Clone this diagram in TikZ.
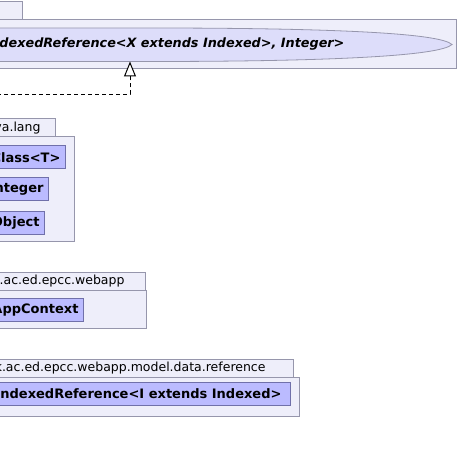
\documentclass[tikz,border=0pt]{standalone}
\usepackage{fontspec}
\setmainfont{DejaVu Sans}
\usetikzlibrary{arrows.meta}
\usetikzlibrary{positioning}

\definecolor{pkgfill}{RGB}{238,238,250}
\definecolor{pkgline}{RGB}{150,150,172}
\definecolor{clsfill}{RGB}{187,187,255}
\definecolor{clsline}{RGB}{112,112,170}
\definecolor{ovlfill}{RGB}{221,221,250}

\begin{document}
\begin{tikzpicture}[x=1pt, y=-1pt, line width=1pt,
    pkg/.style={draw=pkgline, fill=pkgfill},
    pkglabel/.style={anchor=east, inner sep=0pt, font=\fontsize{12.5}{14}\selectfont},
    cls/.style={draw=clsline, fill=clsfill, anchor=east, inner xsep=5pt, inner ysep=0pt,
        minimum height=23pt, font=\fontsize{13}{15}\selectfont\bfseries},
    dep/.style={dash pattern=on 4pt off 3pt, -{Triangle[open, fill=white, length=15pt, width=12pt]}}]
    \fill[white] (0,0) rectangle (463,462);
    \useasboundingbox (0,0) rectangle (463,462);
    \clip (0,0) rectangle (463,462);

    % top package
    \draw[pkg] (-30,2) rectangle (22,20);
    \draw[pkg] (-30,20) rectangle (456,69);
    \draw[draw=pkgline, fill=ovlfill, line width=0.8pt] (452,44.5) .. controls (440,33) and (330,28) .. (150,28)
        -- (-30,28) -- (-30,61.5) -- (150,61.5) .. controls (330,61.5) and (440,56) .. cycle;
    \node (ovl) [anchor=east, inner sep=0pt, font=\fontsize{12.8}{15}\selectfont\bfseries\itshape]
        at (345,44.5) {IndexedReference<X extends Indexed>, Integer>};
    \coordinate (ovlbot) at (130,61.5);

    % java.lang
    \draw[pkg] (-30,119) rectangle (55,137);
    \draw[pkg] (-30,137) rectangle (74,242);
    \node (lang) [pkglabel] at (41,128.5) {java.lang};
    \node (klass) [cls] at (66,157.5) {Class<T>};
    \node (integer) [cls] at (49,189.5) {Integer};
    \node (object) [cls] at (45,223) {Object};

    % webapp
    \draw[pkg] (-30,272.5) rectangle (145,290.5);
    \draw[pkg] (-30,290.5) rectangle (146,328.5);
    \node (webapp) [pkglabel] at (125,281.5) {uk.ac.ed.epcc.webapp};
    \node (context) [cls] at (84,310) {AppContext};

    % reference
    \draw[pkg] (-30,359) rectangle (293,377);
    \draw[pkg] (-30,377) rectangle (299,416);
    \node (refpkg) [pkglabel] at (266,368) {uk.ac.ed.epcc.webapp.model.data.reference};
    \node (indexed) [cls, inner xsep=9pt] at (291,394) {IndexedReference<I extends Indexed>};

    \coordinate (src) at (-10,94.5);
    \draw[dep] (src) -| (ovlbot);
\end{tikzpicture}
\end{document}
